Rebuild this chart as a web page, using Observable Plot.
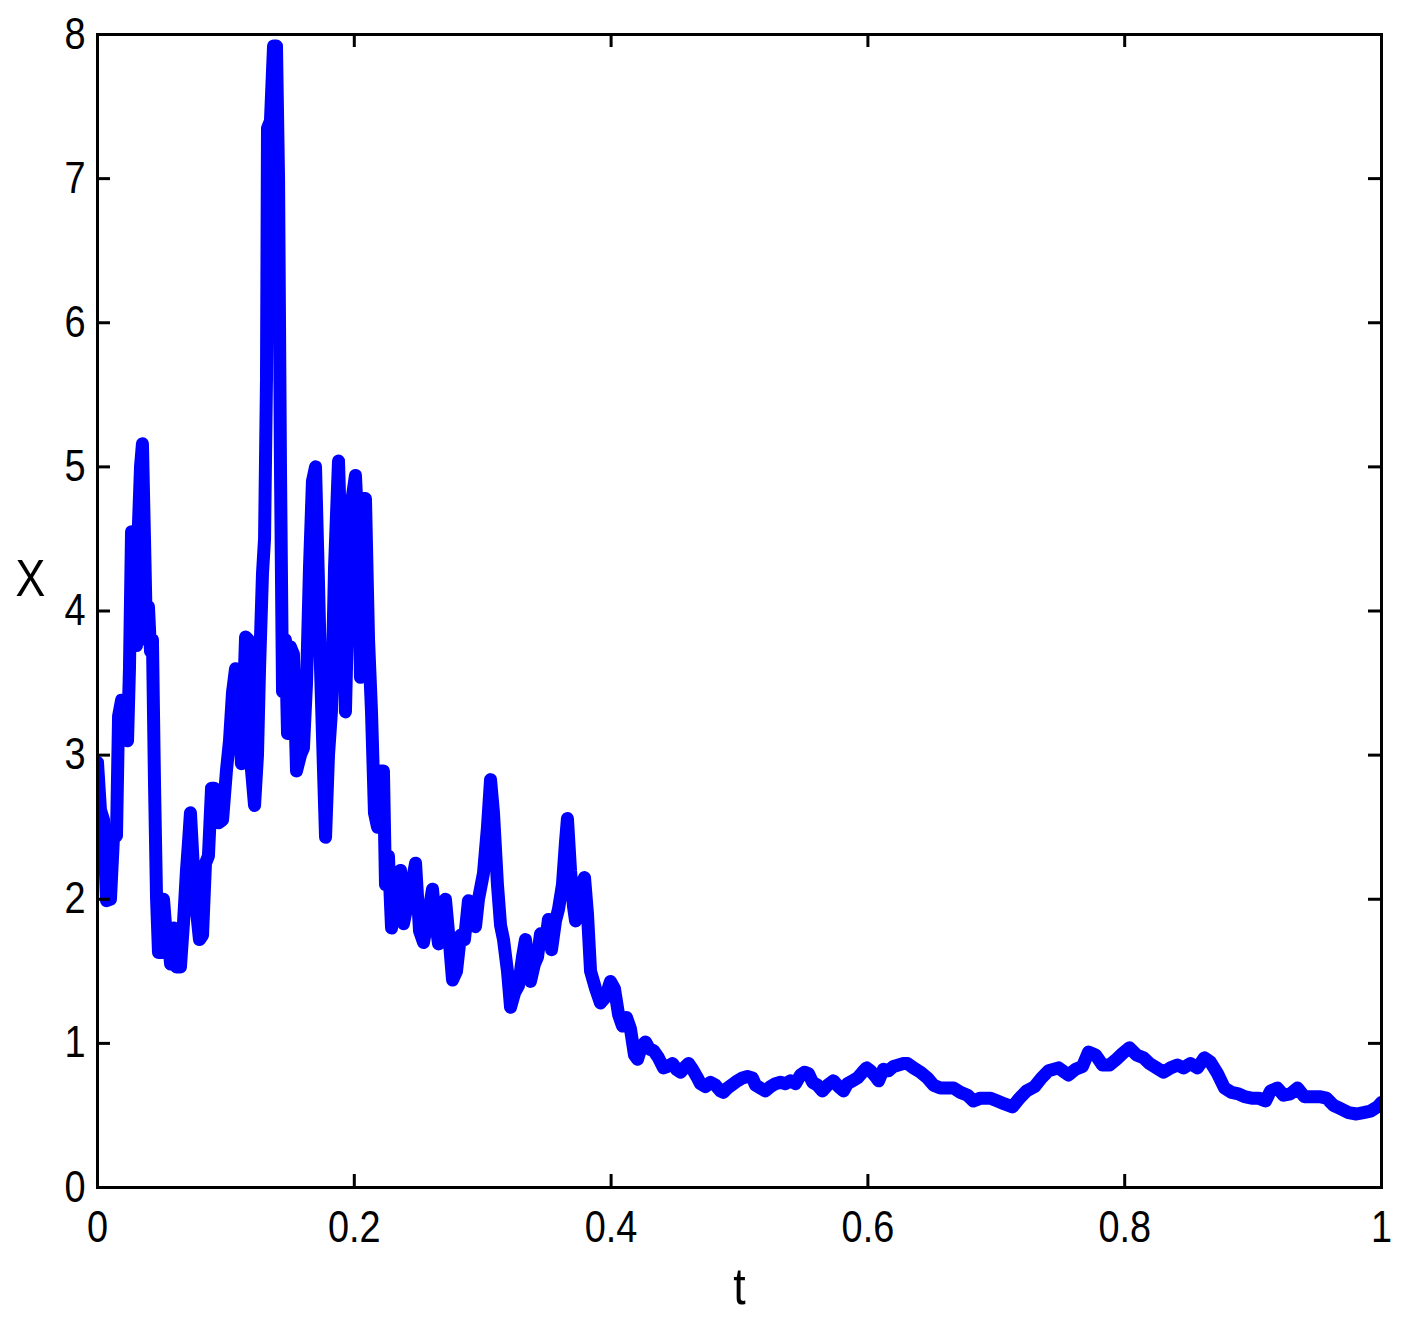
<!DOCTYPE html>
<html><head><meta charset="utf-8">
<script src="https://cdn.jsdelivr.net/npm/d3@7"></script>
<script src="https://cdn.jsdelivr.net/npm/@observablehq/plot@0.6"></script>
<style>body{margin:0;background:#fff} #chart{position:absolute;left:0;top:0}</style>
</head><body><div id="chart"></div>
<script>
const tValues = [0,0.0023,0.0047,0.0070,0.0101,0.0125,0.0148,0.0164,0.0187,0.0210,0.0234,0.0249,0.0265,0.0288,0.0304,0.0319,0.0335,0.0350,0.0366,0.0382,0.0397,0.0413,0.0428,0.0444,0.0460,0.0475,0.0498,0.0514,0.0530,0.0545,0.0569,0.0592,0.0615,0.0646,0.0670,0.0693,0.0709,0.0724,0.0748,0.0771,0.0794,0.0818,0.0841,0.0864,0.0888,0.0911,0.0942,0.0974,0.1005,0.1028,0.1051,0.1075,0.1098,0.1121,0.1153,0.1176,0.1199,0.1223,0.1246,0.1262,0.1285,0.1301,0.1316,0.1324,0.1347,0.1371,0.1394,0.1410,0.1425,0.1441,0.1464,0.1480,0.1503,0.1526,0.1550,0.1581,0.1604,0.1628,0.1651,0.1674,0.1698,0.1721,0.1737,0.1760,0.1776,0.1799,0.1822,0.1846,0.1877,0.1900,0.1931,0.1963,0.1986,0.2009,0.2033,0.2048,0.2064,0.2087,0.2111,0.2134,0.2157,0.2181,0.2204,0.2227,0.2243,0.2266,0.2290,0.2321,0.2360,0.2383,0.2422,0.2445,0.2477,0.2508,0.2539,0.2578,0.2609,0.2632,0.2656,0.2687,0.2710,0.2741,0.2765,0.2796,0.2827,0.2858,0.2889,0.2921,0.2944,0.2967,0.3006,0.3037,0.3061,0.3084,0.3115,0.3139,0.3162,0.3193,0.3217,0.3248,0.3279,0.3310,0.3333,0.3357,0.3372,0.3403,0.3427,0.3450,0.3489,0.3512,0.3536,0.3567,0.3590,0.3621,0.3645,0.3660,0.3684,0.3707,0.3723,0.3746,0.3769,0.3793,0.3816,0.3840,0.3879,0.3917,0.3956,0.3995,0.4026,0.4058,0.4089,0.4120,0.4151,0.4182,0.4206,0.4237,0.4268,0.4299,0.4330,0.4369,0.4408,0.4439,0.4478,0.4509,0.4541,0.4579,0.4603,0.4634,0.4673,0.4696,0.4735,0.4774,0.4813,0.4852,0.4875,0.4907,0.4953,0.4984,0.5023,0.5062,0.5101,0.5125,0.5164,0.5202,0.5241,0.5280,0.5319,0.5358,0.5397,0.5436,0.5475,0.5506,0.5537,0.5569,0.5607,0.5646,0.5685,0.5732,0.5771,0.5810,0.5841,0.5880,0.5919,0.5958,0.5989,0.6020,0.6059,0.6083,0.6121,0.6160,0.6199,0.6238,0.6277,0.6308,0.6355,0.6410,0.6464,0.6511,0.6565,0.6620,0.6667,0.6721,0.6776,0.6822,0.6877,0.6955,0.7009,0.7064,0.7126,0.7181,0.7235,0.7298,0.7352,0.7407,0.7484,0.7562,0.7617,0.7671,0.7718,0.7773,0.7827,0.7882,0.7936,0.7983,0.8037,0.8092,0.8146,0.8193,0.8248,0.8302,0.8357,0.8411,0.8458,0.8512,0.8567,0.8621,0.8668,0.8723,0.8777,0.8832,0.8886,0.8933,0.8988,0.9042,0.9097,0.9136,0.9190,0.9237,0.9291,0.9346,0.9400,0.9517,0.9572,0.9626,0.9673,0.9743,0.9805,0.9860,0.9914,0.9969,1.0];
const xValues = [2.95,2.62,2.55,1.99,2.0,2.44,2.44,3.27,3.38,3.38,3.1,3.6,4.55,4.55,3.76,4.6,5.0,5.16,4.5,3.8,4.03,3.72,3.8,2.8,2.0,1.63,1.63,2.0,1.82,1.8,1.55,1.8,1.53,1.53,1.84,2.2,2.4,2.6,2.2,1.92,1.72,1.75,2.25,2.3,2.77,2.77,2.53,2.55,2.9,3.1,3.43,3.6,3.5,2.94,3.82,3.8,2.9,2.65,3.0,3.6,4.26,4.5,5.6,7.35,7.4,7.92,7.92,7.0,5.0,3.44,3.8,3.15,3.75,3.7,2.89,3.0,3.05,3.5,4.3,4.9,5.0,4.2,3.6,2.9,2.43,3.0,3.3,4.3,5.04,4.35,3.3,4.5,4.8,4.94,4.5,3.54,4.78,4.78,3.8,3.3,2.6,2.5,2.89,2.89,2.1,2.3,1.8,2.0,2.2,1.83,2.0,2.1,2.25,1.78,1.70,1.9,2.07,1.85,1.69,1.9,2.0,1.7,1.44,1.5,1.75,1.72,1.99,1.85,1.81,2.0,2.18,2.5,2.83,2.6,2.1,1.82,1.72,1.5,1.25,1.35,1.4,1.6,1.72,1.55,1.43,1.55,1.6,1.76,1.7,1.86,1.65,1.85,1.93,2.1,2.4,2.56,2.2,1.95,1.85,1.95,2.1,2.15,1.9,1.5,1.38,1.28,1.32,1.43,1.38,1.2,1.12,1.18,1.1,0.92,0.89,0.98,1.01,0.96,0.95,0.9,0.83,0.84,0.86,0.82,0.80,0.84,0.86,0.82,0.76,0.72,0.70,0.73,0.71,0.67,0.66,0.69,0.72,0.74,0.76,0.77,0.76,0.71,0.69,0.67,0.70,0.72,0.73,0.72,0.74,0.72,0.78,0.80,0.79,0.73,0.71,0.67,0.71,0.74,0.70,0.67,0.72,0.74,0.76,0.80,0.83,0.81,0.77,0.74,0.82,0.81,0.84,0.85,0.86,0.86,0.83,0.80,0.76,0.71,0.69,0.69,0.69,0.66,0.64,0.60,0.62,0.62,0.60,0.58,0.56,0.62,0.67,0.70,0.76,0.81,0.83,0.78,0.82,0.84,0.94,0.92,0.85,0.85,0.89,0.93,0.97,0.92,0.90,0.86,0.83,0.80,0.83,0.85,0.83,0.86,0.83,0.90,0.87,0.79,0.69,0.66,0.65,0.63,0.62,0.62,0.60,0.67,0.69,0.64,0.65,0.69,0.63,0.63,0.62,0.57,0.55,0.52,0.51,0.52,0.53,0.56,0.59];
const xTicks = [0, 0.2, 0.4, 0.6, 0.8, 1];
const xTickLabels = ["0", "0.2", "0.4", "0.6", "0.8", "1"];
const yTicks = [0, 1, 2, 3, 4, 5, 6, 7, 8];
const yTickLabels = ["0", "1", "2", "3", "4", "5", "6", "7", "8"];
const xLabel = "t";
const yLabel = "X";

const data = tValues.map((t, i) => ({t, X: xValues[i]}));
const W = 1405, H = 1324, mL = 97, mR = 24, mT = 34, mB = 137;
const innerH = H - mT - mB, innerW = W - mL - mR;
const font = "'Liberation Sans',Arial,sans-serif";
const tickLen = 13;

const chart = Plot.plot({
  width: W, height: H,
  marginLeft: mL, marginRight: mR, marginTop: mT, marginBottom: mB,
  style: {fontFamily: font, fontSize: "44px", background: "white", color: "black", overflow: "visible"},
  x: {domain: [0, 1]},
  y: {domain: [0, 8]},
  marks: [
    Plot.line(data, {x: "t", y: "X", stroke: "#0000ff", strokeWidth: 13, strokeLinejoin: "round", strokeLinecap: "round", clip: true}),
    Plot.tickX(xTicks, {x: d => d, insetTop: innerH - tickLen, stroke: "black", strokeWidth: 3}),
    Plot.tickX(xTicks, {x: d => d, insetBottom: innerH - tickLen, stroke: "black", strokeWidth: 3}),
    Plot.tickY(yTicks, {y: d => d, insetRight: innerW - tickLen, stroke: "black", strokeWidth: 3}),
    Plot.tickY(yTicks, {y: d => d, insetLeft: innerW - tickLen, stroke: "black", strokeWidth: 3}),
    Plot.frame({stroke: "black", strokeWidth: 3}),
    Plot.axisX(xTicks, {tickSize: 0, tickPadding: 23, fontSize: 44, label: null, tickFormat: d => xTickLabels[xTicks.indexOf(d)]}),
    Plot.axisY(yTicks, {tickSize: 0, tickPadding: 12, fontSize: 44, label: null, tickFormat: d => yTickLabels[yTicks.indexOf(d)]}),
    Plot.text([xLabel], {frameAnchor: "bottom", text: d => d, dy: 116, fontSize: 52, fill: "black"}),
    Plot.text([yLabel], {frameAnchor: "left", text: d => d, textAnchor: "middle", dx: -67, dy: -32, fontSize: 52, fill: "black"})
  ]
});
document.getElementById("chart").appendChild(chart);
// condense the glyphs horizontally, like the reference's narrow Helvetica
d3.select(chart).selectAll("text").each(function () {
  const L = this.getComputedTextLength();
  if (L > 0) {
    this.setAttribute("textLength", (L * 0.86).toFixed(1));
    this.setAttribute("lengthAdjust", "spacingAndGlyphs");
  }
});
</script>
</body></html>
